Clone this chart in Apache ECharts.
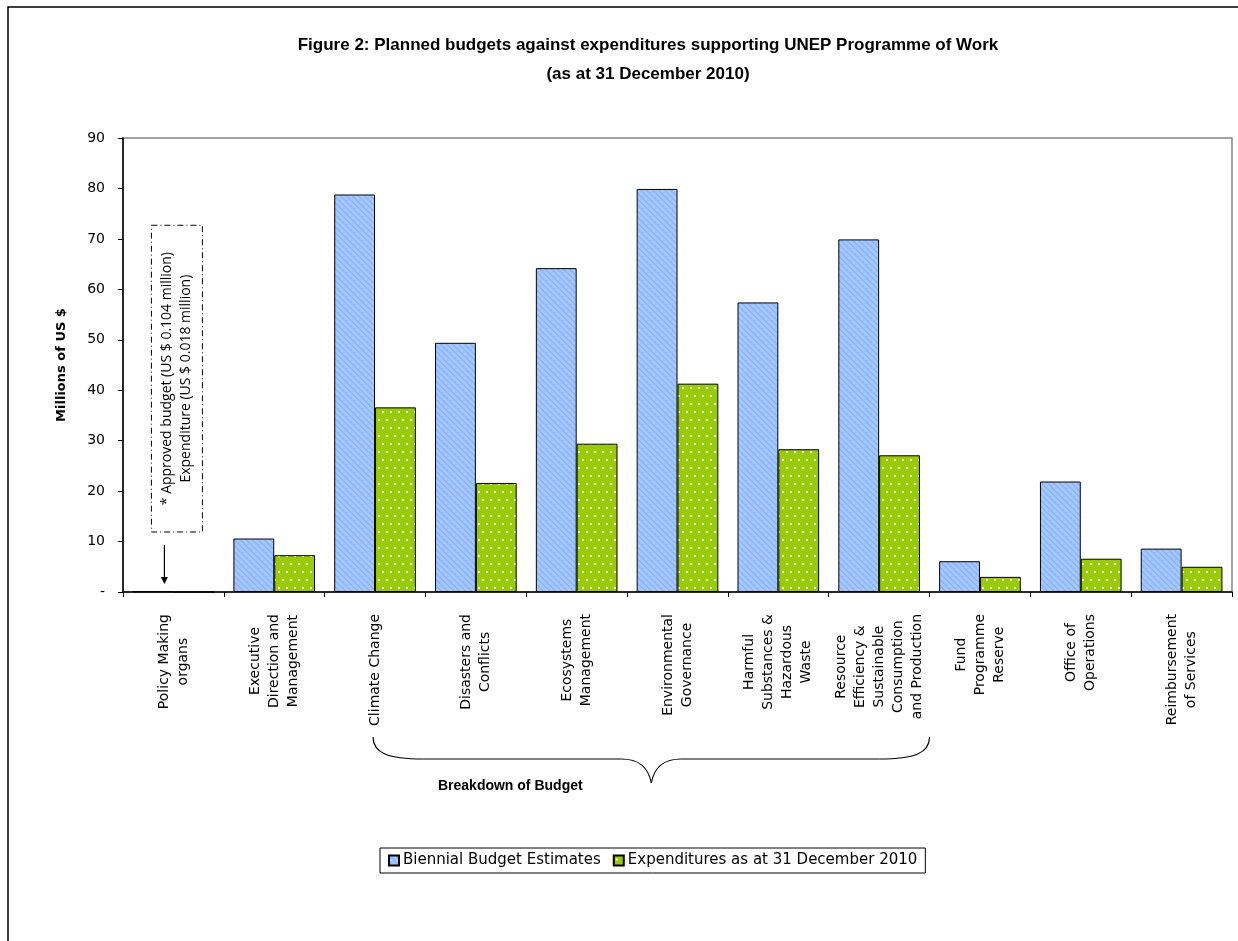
<!DOCTYPE html>
<html lang="en">
<head>
    <meta charset="utf-8">
    <title>Figure 2: Planned budgets against expenditures</title>
    <script src="https://cdn.jsdelivr.net/npm/echarts@6/dist/echarts.min.js"></script>
    <style>
        html, body { margin: 0; padding: 0; background: #fff; }
        #main { width: 1238px; height: 941px; }
    </style>
</head>
<body>
<div id="main"></div>
<script type="text/javascript">
    // data (millions of US $)
    var categories = [
        'Policy Making\norgans',
        'Executive\nDirection and\nManagement',
        'Climate Change',
        'Disasters and\nConflicts',
        'Ecosystems\nManagement',
        'Environmental\nGovernance',
        'Harmful\nSubstances &\nHazardous\nWaste',
        'Resource\nEfficiency &\nSustainable\nConsumption\nand Production',
        'Fund\nProgramme\nReserve',
        'Office of\nOperations',
        'Reimbursement\nof Services'
    ];
    var budgetEstimates = [0.104, 10.6, 78.8, 49.4, 64.2, 79.9, 57.4, 69.9, 6.1, 21.9, 8.6];
    var expenditures = [0.018, 7.3, 36.6, 21.6, 29.4, 41.3, 28.3, 27.1, 3.0, 6.6, 5.0];
    var seriesNames = ['Biennial Budget Estimates', 'Expenditures as at 31 December 2010'];
    var yTicks = [0, 90, 10]; // min, max, interval

    var labelFont = '"DejaVu Sans", "Open Sans", sans-serif';
    var titleFont = '"Liberation Sans", Arial, sans-serif';

    // fill patterns like the Excel original
    function stripePattern() {
        var c = document.createElement('canvas');
        c.width = 6; c.height = 6;
        var ctx = c.getContext('2d');
        var img = ctx.createImageData(6, 6);
        for (var y = 0; y < 6; y++) {
            for (var x = 0; x < 6; x++) {
                var d = ((x - y) % 6 + 6) % 6;
                var i = (y * 6 + x) * 4;
                if (d < 2) { img.data[i] = 0xA0; img.data[i + 1] = 0xA8; img.data[i + 2] = 0xFF; }
                else { img.data[i] = 0x99; img.data[i + 1] = 0xCC; img.data[i + 2] = 0xFF; }
                img.data[i + 3] = 255;
            }
        }
        ctx.putImageData(img, 0, 0);
        return c;
    }
    function dotPattern() {
        var c = document.createElement('canvas');
        c.width = 8; c.height = 16;
        var ctx = c.getContext('2d');
        ctx.fillStyle = '#99CC00';
        ctx.fillRect(0, 0, 8, 16);
        ctx.fillStyle = '#ffffff';
        ctx.fillRect(2, 3, 2, 2);
        ctx.fillRect(6, 11, 2, 2);
        return c;
    }

    var myChart = echarts.init(document.getElementById('main'));

    var option = {
        backgroundColor: '#fff',
        animation: false,
        title: {
            text: 'Figure 2: Planned budgets against expenditures supporting UNEP Programme of Work\n(as at 31 December 2010)',
            left: 643,
            textAlign: 'center',
            top: 26,
            textStyle: {
                fontFamily: titleFont,
                fontWeight: 'bold',
                fontSize: 17,
                lineHeight: 29,
                color: '#000'
            }
        },
        legend: {
            data: seriesNames,
            icon: 'rect',
            left: 380,
            top: 848,
            padding: [5, 8, 5, 8],
            borderColor: '#000',
            borderWidth: 1,
            itemWidth: 10,
            itemHeight: 10,
            itemGap: 12,
            textStyle: {
                fontFamily: labelFont,
                fontSize: 15,
                color: '#000',
                padding: [0, 0, 0, -1]
            }
        },
        grid: {
            left: 123,
            right: 6,
            top: 138,
            bottom: 349,
            show: true,
            borderColor: '#888',
            borderWidth: 1.5,
            containLabel: false
        },
        xAxis: {
            type: 'category',
            data: categories,
            axisLine: { lineStyle: { color: '#000', width: 1.5 } },
            axisTick: { show: true, length: 5, lineStyle: { color: '#000' } },
            axisLabel: {
                interval: 0,
                rotate: 90,
                margin: 22,
                formatter: function (v) {
                    return v.split('\n').map(function (s) { return '{c|' + s + '}'; }).join('\n');
                },
                rich: {
                    c: {
                        align: 'center',
                        fontFamily: labelFont,
                        fontSize: 14,
                        lineHeight: 19,
                        color: '#000'
                    }
                }
            }
        },
        yAxis: {
            type: 'value',
            min: yTicks[0],
            max: yTicks[1],
            interval: yTicks[2],
            name: 'Millions of US $',
            nameLocation: 'middle',
            nameRotate: 90,
            nameGap: 55,
            nameTextStyle: {
                fontFamily: labelFont,
                fontWeight: 'bold',
                fontSize: 13,
                color: '#000'
            },
            axisLine: { show: true, lineStyle: { color: '#000', width: 1.5 } },
            axisTick: { show: true, length: 5, lineStyle: { color: '#000' } },
            splitLine: { show: false },
            axisLabel: {
                margin: 18,
                fontFamily: labelFont,
                fontSize: 14,
                color: '#000',
                formatter: function (v) { return v === 0 ? '-' : v; }
            }
        },
        series: [
            {
                name: seriesNames[0],
                type: 'bar',
                data: budgetEstimates,
                barGap: '0%',
                barCategoryGap: '19%',
                itemStyle: {
                    color: { image: stripePattern(), repeat: 'repeat' },
                    borderColor: '#000',
                    borderWidth: 1
                }
            },
            {
                name: seriesNames[1],
                type: 'bar',
                data: expenditures,
                barGap: '0%',
                barCategoryGap: '19%',
                itemStyle: {
                    color: { image: dotPattern(), repeat: 'repeat' },
                    borderColor: '#000',
                    borderWidth: 1
                }
            }
        ]
    };
    myChart.setOption(option);

    // annotations placed from axis coordinates
    function px(cat, val) {
        return myChart.convertToPixel({ xAxisIndex: 0, yAxisIndex: 0 }, [cat, val]);
    }
    var p0 = px(0, 0);
    var boxTop = px(0, 72.7)[1];
    var boxBottom = px(0, 11.9)[1];
    var boxX = p0[0] - 22;
    var arrowX = p0[0] - 9;
    var arrowTop = px(0, 9.3)[1];
    var arrowBottom = px(0, 1.6)[1];

    var braceL = px(2, 0)[0] - 2;
    var braceR = (px(7, 0)[0] + px(8, 0)[0]) / 2;
    var tip = (braceL + braceR) / 2;
    var bt = 737, bm = 759, bb = 783;
    var braceStyle = { fill: 'none', stroke: '#000', lineWidth: 1.2 };

    function curve(x1, y1, c1x, c1y, c2x, c2y, x2, y2) {
        return {
            type: 'bezierCurve',
            silent: true,
            shape: { x1: x1, y1: y1, cpx1: c1x, cpy1: c1y, cpx2: c2x, cpy2: c2y, x2: x2, y2: y2 },
            style: braceStyle
        };
    }
    function seg(x1, y1, x2, y2) {
        return { type: 'line', silent: true, shape: { x1: x1, y1: y1, x2: x2, y2: y2 }, style: braceStyle };
    }

    myChart.setOption({
        graphic: [
            {
                type: 'rect',
                silent: true,
                shape: { x: 8, y: 7, width: 1300, height: 1000 },
                style: { fill: 'none', stroke: '#000', lineWidth: 1.5 }
            },
            {
                type: 'rect',
                silent: true,
                shape: { x: boxX, y: boxTop, width: 51, height: boxBottom - boxTop },
                style: { fill: '#fff', stroke: '#000', lineWidth: 1, lineDash: [6, 3, 1, 3] }
            },
            {
                type: 'text',
                silent: true,
                x: boxX + 25.5,
                y: (boxTop + boxBottom) / 2,
                rotation: Math.PI / 2,
                style: {
                    text: '* Approved budget (US $ 0.104 million)\nExpenditure (US $ 0.018 million)',
                    align: 'center',
                    verticalAlign: 'middle',
                    fontFamily: '"Open Sans", sans-serif',
                    fontSize: 14,
                    lineHeight: 19,
                    fill: '#000'
                }
            },
            seg(arrowX, arrowTop, arrowX, arrowBottom - 5),
            {
                type: 'polygon',
                silent: true,
                shape: { points: [[arrowX - 3.5, arrowBottom - 7], [arrowX + 3.5, arrowBottom - 7], [arrowX, arrowBottom]] },
                style: { fill: '#000' }
            },
            curve(braceL, bt, braceL, bm - 6, braceL + 15, bm, braceL + 50, bm),
            seg(braceL + 50, bm, tip - 30, bm),
            curve(tip - 30, bm, tip - 12, bm, tip - 3, bm + 8, tip, bb),
            curve(tip, bb, tip + 3, bm + 8, tip + 12, bm, tip + 30, bm),
            seg(tip + 30, bm, braceR - 50, bm),
            curve(braceR - 50, bm, braceR - 15, bm, braceR, bm - 6, braceR, bt),
            {
                type: 'text',
                silent: true,
                x: tip - 141,
                y: 786,
                style: {
                    text: 'Breakdown of Budget',
                    align: 'center',
                    verticalAlign: 'middle',
                    fontFamily: titleFont,
                    fontWeight: 'bold',
                    fontSize: 14,
                    fill: '#000'
                }
            }
        ]
    });

    window.onresize = function () {
        myChart.resize();
    };
</script>
</body>
</html>
